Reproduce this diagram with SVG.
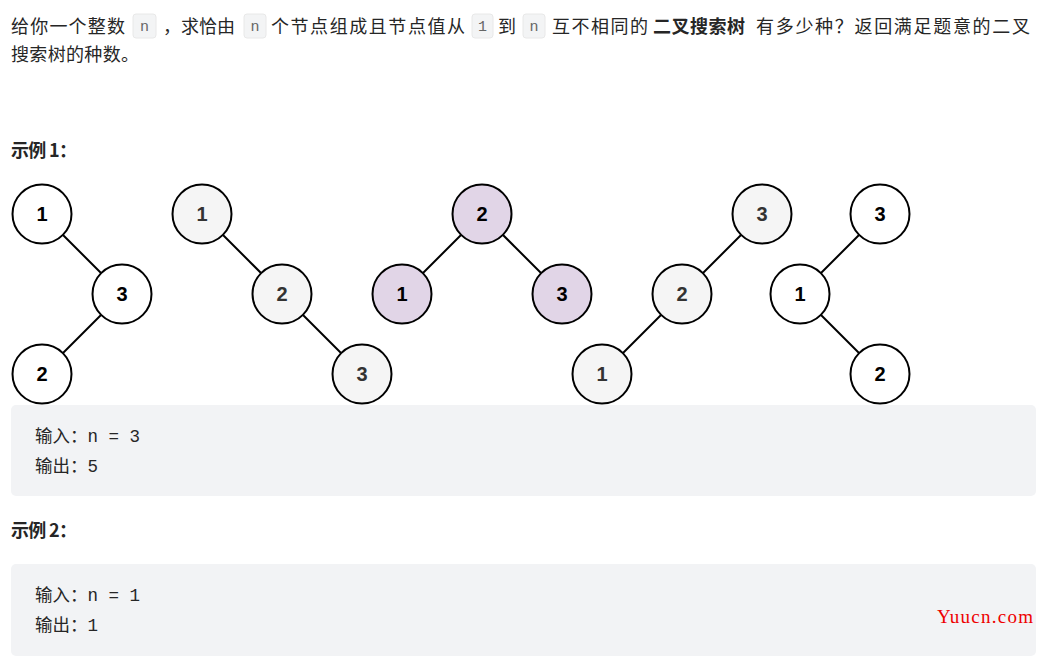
<svg xmlns="http://www.w3.org/2000/svg" width="1046" height="672" viewBox="0 0 1046 672">
<style>
.t{font-family:"Noto Sans CJK SC","Liberation Sans",sans-serif;font-size:18px;fill:#262626}
.b{font-weight:bold}
.c{fill:#f3f4f5;stroke:#e8e8e8;stroke-width:1}
.ct{font-family:"Liberation Mono",monospace;font-size:15px;fill:#666}
.m{font-family:"Liberation Mono","Noto Sans CJK SC",monospace;font-size:17.5px;fill:#262626}
circle{stroke:#000;stroke-width:2}
.w{fill:#fff}.g{fill:#f5f5f5}.p{fill:#e1d5e7}
.n{font-family:"Liberation Sans",Arial,sans-serif;font-size:20px;font-weight:bold;text-anchor:middle}
.nk{fill:#000}.ng{fill:#333}
#edges line{stroke:#000;stroke-width:2}
</style>
<rect width="1046" height="672" fill="#fff"/>
<g id="intro">
<rect class="c" x="133" y="14" width="23" height="24" rx="3"/>
<rect class="c" x="244" y="14" width="22" height="24" rx="3"/>
<rect class="c" x="472" y="14" width="21" height="24" rx="3"/>
<rect class="c" x="523" y="14" width="22" height="24" rx="3"/>
<text class="t" x="11" y="33" textLength="114">给你一个整数</text>
<text class="ct" x="144.5" y="31" text-anchor="middle">n</text>
<text class="t" x="163" y="33" textLength="72">，求恰由</text>
<text class="ct" x="255" y="31" text-anchor="middle">n</text>
<text class="t" x="271" y="33" textLength="194">个节点组成且节点值从</text>
<text class="ct" x="482.5" y="31" text-anchor="middle">1</text>
<text class="t" x="498" y="33" textLength="20">到</text>
<text class="ct" x="534" y="31" text-anchor="middle">n</text>
<text class="t" x="552" y="33" textLength="96">互不相同的</text>
<text class="t b" x="653" y="33" textLength="92">二叉搜索树</text>
<text class="t" x="756" y="33" textLength="274">有多少种？返回满足题意的二叉</text>
<text class="t" x="11" y="61" textLength="128">搜索树的种数。</text>
<text class="t b" x="11" y="157" textLength="66">示例 1：</text>
<text class="t b" x="11" y="537" textLength="66">示例 2：</text>
</g>
<g id="edges">
<line x1="42" y1="214" x2="122" y2="294"/><line x1="122" y1="294" x2="42" y2="374"/>
<line x1="202" y1="214" x2="282" y2="294"/><line x1="282" y1="294" x2="362" y2="374"/>
<line x1="482" y1="214" x2="402" y2="294"/><line x1="482" y1="214" x2="562" y2="294"/>
<line x1="762" y1="214" x2="682" y2="294"/><line x1="682" y1="294" x2="602" y2="374"/>
<line x1="880" y1="214" x2="800" y2="294"/><line x1="800" y1="294" x2="880" y2="374"/>
</g>
<g id="t1">
<circle class="w" cx="42" cy="214" r="29.5"/><text class="n nk" x="42" y="221">1</text>
<circle class="w" cx="122" cy="294" r="29.5"/><text class="n nk" x="122" y="301">3</text>
<circle class="w" cx="42" cy="374" r="29.5"/><text class="n nk" x="42" y="381">2</text>
</g>
<g id="t2">
<circle class="g" cx="202" cy="214" r="29.5"/><text class="n ng" x="202" y="221">1</text>
<circle class="g" cx="282" cy="294" r="29.5"/><text class="n ng" x="282" y="301">2</text>
<circle class="g" cx="362" cy="374" r="29.5"/><text class="n ng" x="362" y="381">3</text>
</g>
<g id="t3">
<circle class="p" cx="482" cy="214" r="29.5"/><text class="n nk" x="482" y="221">2</text>
<circle class="p" cx="402" cy="294" r="29.5"/><text class="n nk" x="402" y="301">1</text>
<circle class="p" cx="562" cy="294" r="29.5"/><text class="n nk" x="562" y="301">3</text>
</g>
<g id="t4">
<circle class="g" cx="762" cy="214" r="29.5"/><text class="n ng" x="762" y="221">3</text>
<circle class="g" cx="682" cy="294" r="29.5"/><text class="n ng" x="682" y="301">2</text>
<circle class="g" cx="602" cy="374" r="29.5"/><text class="n ng" x="602" y="381">1</text>
</g>
<g id="t5">
<circle class="w" cx="880" cy="214" r="29.5"/><text class="n nk" x="880" y="221">3</text>
<circle class="w" cx="800" cy="294" r="29.5"/><text class="n nk" x="800" y="301">1</text>
<circle class="w" cx="880" cy="374" r="29.5"/><text class="n nk" x="880" y="381">2</text>
</g>
<g id="ex1">
<rect x="11" y="405" width="1025" height="91" rx="5" fill="#f2f3f5"/>
<text class="m" x="35" y="442">输入：n = 3</text>
<text class="m" x="35" y="472">输出：5</text>
</g>
<g id="ex2">
<rect x="11" y="564" width="1025" height="92" rx="5" fill="#f2f3f5"/>
<text class="m" x="35" y="601">输入：n = 1</text>
<text class="m" x="35" y="631">输出：1</text>
</g>
<text x="937" y="623" font-family="Liberation Serif,serif" font-size="19" fill="#e00" textLength="96">Yuucn.com</text>
</svg>
